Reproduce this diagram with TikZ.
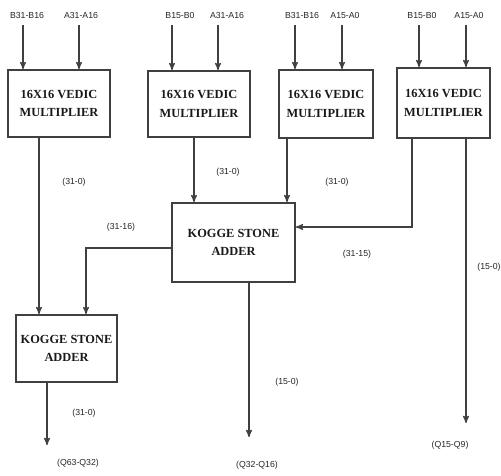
\documentclass[tikz,border=0pt]{standalone}
\usepackage{fontspec}
\setmainfont{Liberation Serif}
\setsansfont{Liberation Sans}
\usetikzlibrary{arrows,positioning}

\begin{document}
\begin{tikzpicture}[->,>=stealth',x=0.25mm,y=-0.25mm]
  \tikzstyle{block}=[draw=black!75,line width=0.45mm,inner sep=0pt,align=center,
                     font=\bfseries\fontsize{8.8}{13}\selectfont,text=black!90]
  \tikzstyle{sig}=[font=\sffamily\fontsize{6.2}{7}\selectfont,text=black!85,inner sep=1pt]
  \tikzstyle{wire}=[draw=black!75,line width=0.3mm]

  \useasboundingbox (0,0) rectangle (501,475);

  % multipliers
  \node[block,minimum width=25.5mm,minimum height=16.75mm]  (m1) at (59,103.5)  {16X16 VEDIC\\MULTIPLIER};
  \node[block,minimum width=25.5mm,minimum height=16.5mm]   (m2) at (199,104)   {16X16 VEDIC\\MULTIPLIER};
  \node[block,minimum width=23.5mm,minimum height=17mm]     (m3) at (326,104)   {16X16 VEDIC\\MULTIPLIER};
  \node[block,minimum width=23.25mm,minimum height=17.5mm]  (m4) at (443.5,103) {16X16 VEDIC\\MULTIPLIER};

  % adders
  \node[block,minimum width=30.75mm,minimum height=19.75mm] (ks1) at (233.5,242.5) {KOGGE STONE\\ADDER};
  \node[block,minimum width=25.25mm,minimum height=16.75mm] (ks2) at (66.5,348.5)  {KOGGE STONE\\ADDER};

  % inputs
  \node[sig] (b1) at (27,15)  {B31-B16};
  \node[sig] (a1) at (81,15)  {A31-A16};
  \node[sig] (b2) at (180,15) {B15-B0};
  \node[sig] (a2) at (227,15) {A31-A16};
  \node[sig] (b3) at (302,15) {B31-B16};
  \node[sig] (a3) at (345,15) {A15-A0};
  \node[sig] (b4) at (422,15) {B15-B0};
  \node[sig] (a4) at (469,15) {A15-A0};

  \coordinate (ib1) at (23,25);
  \coordinate (ia1) at (79,25);
  \coordinate (ib2) at (172,25);
  \coordinate (ia2) at (218,25);
  \coordinate (ib3) at (295,25);
  \coordinate (ia3) at (342,25);
  \coordinate (ib4) at (419,25);
  \coordinate (ia4) at (466,25);

  \draw[wire] (ib1) -- (ib1 |- m1.north);
  \draw[wire] (ia1) -- (ia1 |- m1.north);
  \draw[wire] (ib2) -- (ib2 |- m2.north);
  \draw[wire] (ia2) -- (ia2 |- m2.north);
  \draw[wire] (ib3) -- (ib3 |- m3.north);
  \draw[wire] (ia3) -- (ia3 |- m3.north);
  \draw[wire] (ib4) -- (ib4 |- m4.north);
  \draw[wire] (ia4) -- (ia4 |- m4.north);

  % partial products
  \draw[wire] ([xshift=-5mm]m1.south) -- ([xshift=-5mm]m1.south |- ks2.north);
  \draw[wire] ([xshift=-1.25mm]m2.south) -- ([xshift=-1.25mm]m2.south |- ks1.north);
  \draw[wire] ([xshift=-9.75mm]m3.south) -- ([xshift=-9.75mm]m3.south |- ks1.north);
  \draw[wire] ([xshift=-7.875mm]m4.south) |- ([yshift=3.875mm]ks1.east);
  \draw[wire] ([yshift=-1.375mm]ks1.west) -| ([xshift=4.875mm]ks2.north);

  % outputs
  \coordinate (o1) at (47,445);
  \coordinate (o2) at (249,437);
  \coordinate (o3) at (466,423);
  \draw[wire] (o1 |- ks2.south) -- (o1);
  \draw[wire] (o2 |- ks1.south) -- (o2);
  \draw[wire] (o3 |- m4.south) -- (o3);

  % bit ranges
  \node[sig] (r1)  at (74,182)  {(31-0)};
  \node[sig] (r2)  at (228,172) {(31-0)};
  \node[sig] (r3)  at (337,182) {(31-0)};
  \node[sig] (r4)  at (121,227) {(31-16)};
  \node[sig] (r5)  at (357,254) {(31-15)};
  \node[sig] (r6)  at (489,267) {(15-0)};
  \node[sig] (r7)  at (287,382) {(15-0)};
  \node[sig] (r8)  at (84,413)  {(31-0)};
  \node[sig] (q1)  at (78,463)  {(Q63-Q32)};
  \node[sig] (q2)  at (257,465) {(Q32-Q16)};
  \node[sig] (q3)  at (450,445) {(Q15-Q9)};
\end{tikzpicture}
\end{document}
